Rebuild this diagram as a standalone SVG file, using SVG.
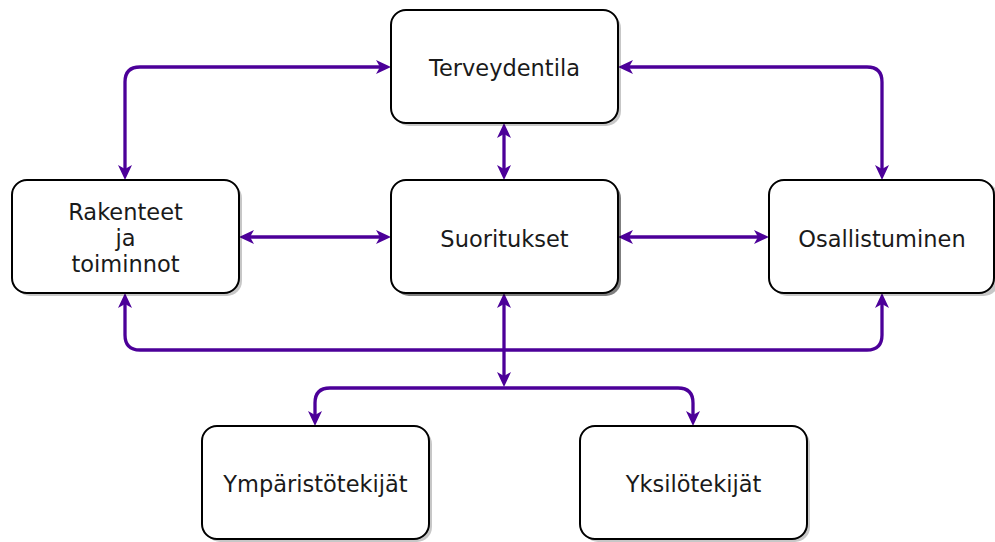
<svg xmlns="http://www.w3.org/2000/svg" width="995" height="542" viewBox="0 0 995 542">
<style>
.box{fill:#fff;stroke:#000;stroke-width:2}
.sh{fill:#000;opacity:0.22}
.sh2{fill:#000;opacity:0.5}
.lbl{font-family:"DejaVu Sans",Verdana,sans-serif;font-size:22.5px;fill:#1a1a1a;text-anchor:middle;dominant-baseline:central}
.c{fill:none;stroke:#4C0099;stroke-width:3.3}
</style>
<defs>
<marker id="a" markerUnits="userSpaceOnUse" viewBox="0 0 15 14" markerWidth="15" markerHeight="14" refX="5" refY="7" orient="auto-start-reverse">
<path d="M0,0 L15,7 L0,14 L4,7 Z" fill="#4C0099"/>
</marker>
</defs>
<g id="connectors">
<path class="c" d="M381,67 H140 Q125,67 125,82 V170" marker-start="url(#a)" marker-end="url(#a)"/>
<path class="c" d="M628,67 H867 Q882,67 882,82 V170" marker-start="url(#a)" marker-end="url(#a)"/>
<path class="c" d="M504,133 V170" marker-start="url(#a)" marker-end="url(#a)"/>
<path class="c" d="M249,237 H381" marker-start="url(#a)" marker-end="url(#a)"/>
<path class="c" d="M628,237 H759" marker-start="url(#a)" marker-end="url(#a)"/>
<path class="c" d="M125,303 V335 Q125,350 140,350 H867 Q882,350 882,335 V303" marker-start="url(#a)" marker-end="url(#a)"/>
<path class="c" d="M504,303 V377" marker-start="url(#a)" marker-end="url(#a)"/>
<path class="c" d="M504,388 H330 Q315,388 315,403 V416" marker-end="url(#a)"/>
<path class="c" d="M504,388 H678 Q693,388 693,403 V416" marker-end="url(#a)"/>
</g>
<g id="terveydentila">
<rect class="sh" x="394" y="13" width="227" height="113" rx="15"/>
<rect class="box" x="391" y="10" width="227" height="113" rx="15"/>
<text class="lbl" x="504.5" y="68">Terveydentila</text>
</g>
<g id="rakenteet">
<rect class="sh" x="15" y="183" width="227" height="113" rx="15"/>
<rect class="box" x="12" y="180" width="227" height="113" rx="15"/>
<text class="lbl" x="125.5" y="212">Rakenteet</text>
<text class="lbl" x="125.5" y="238">ja</text>
<text class="lbl" x="125.5" y="264">toiminnot</text>
</g>
<g id="suoritukset">
<rect class="sh2" x="394" y="183" width="227" height="113" rx="15"/>
<rect class="box" x="391" y="180" width="227" height="113" rx="15"/>
<text class="lbl" x="504.5" y="239">Suoritukset</text>
</g>
<g id="osallistuminen">
<rect class="sh" x="772" y="183" width="227" height="113" rx="15"/>
<rect class="box" x="769" y="180" width="225" height="113" rx="15"/>
<text class="lbl" x="882" y="239">Osallistuminen</text>
</g>
<g id="ymparistotekijat">
<rect class="sh" x="205" y="429" width="227" height="113" rx="15"/>
<rect class="box" x="202" y="426" width="227" height="113" rx="15"/>
<text class="lbl" x="315.5" y="484">Ympäristötekijät</text>
</g>
<g id="yksilotekijat">
<rect class="sh" x="583" y="429" width="227" height="113" rx="15"/>
<rect class="box" x="580" y="426" width="227" height="113" rx="15"/>
<text class="lbl" x="693.5" y="484">Yksilötekijät</text>
</g>
</svg>
